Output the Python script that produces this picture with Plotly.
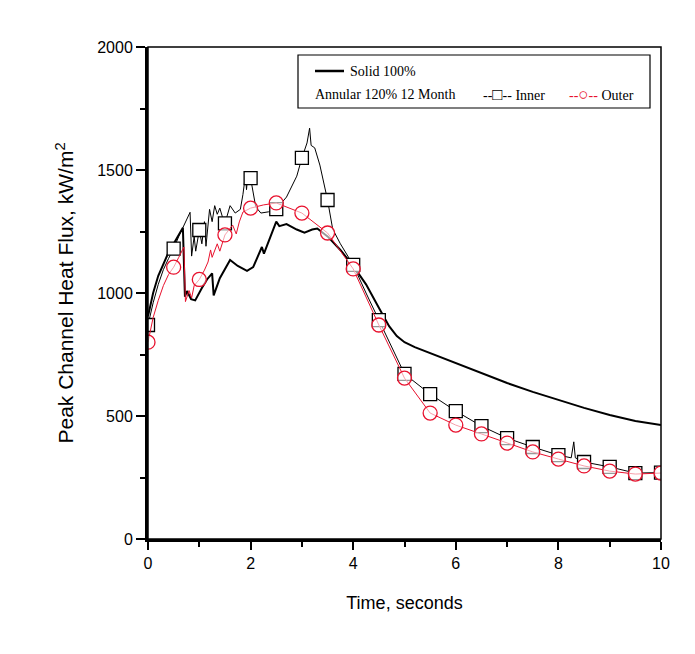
import plotly.graph_objects as go

# ---------------- data ----------------
solid_t = [0, 0.1, 0.2, 0.3, 0.4, 0.5, 0.6, 0.68, 0.72, 0.76, 0.84, 0.92, 1.05, 1.15, 1.25, 1.28,
           1.4, 1.6, 1.75, 1.93, 2.05, 2.22, 2.26, 2.35, 2.5, 2.56, 2.7, 2.9, 3.05, 3.2, 3.3, 3.5,
           3.75, 4.0, 4.25, 4.5, 4.7, 4.85, 5.0, 5.2, 5.5, 6.0, 6.5, 7.0, 7.5, 8.0, 8.5, 9.0, 9.5, 10.0]
solid_v = [905, 1000, 1070, 1120, 1165, 1200, 1235, 1265, 985, 1008, 975, 970, 1020, 1055, 1080, 990,
           1060, 1134, 1110, 1090, 1105, 1187, 1160, 1210, 1290, 1272, 1280, 1258, 1245, 1258, 1262, 1230,
           1175, 1110, 1035, 940, 865, 825, 800, 780, 756, 715, 675, 634, 598, 565, 533, 504, 480, 463]

inner_t = [0, 0.1, 0.2, 0.3, 0.4, 0.5, 0.6, 0.7, 0.82, 0.85, 0.9, 0.93, 1.0, 1.05, 1.1, 1.13, 1.2,
           1.25, 1.3, 1.35, 1.4, 1.45, 1.5, 1.6, 1.7, 1.8, 1.85, 1.9, 1.92, 1.95, 2.0, 2.1, 2.2, 2.35,
           2.5, 2.7, 2.9, 3.0, 3.1, 3.15, 3.18, 3.25, 3.35, 3.5, 3.6, 3.75, 4.0, 4.25, 4.5, 4.75, 5.0,
           5.5, 6.0, 6.5, 7.0, 7.5, 8.0, 8.25, 8.3, 8.33, 8.5, 9.0, 9.5, 10.0]
inner_v = [870, 960, 1035, 1095, 1140, 1180, 1230, 1275, 1328, 1150, 1230, 1170, 1256, 1200, 1290, 1190, 1340,
           1290, 1355, 1320, 1345, 1310, 1283, 1355, 1325, 1340, 1400, 1480, 1420, 1490, 1467, 1350, 1325, 1330,
           1341, 1390, 1475, 1549, 1610, 1670, 1600, 1590, 1520, 1378, 1260, 1200, 1114, 1000, 890, 780, 671,
           589, 520, 459, 410, 374, 341, 330, 395, 330, 313, 293, 268, 270]

outer_t = [0, 0.1, 0.2, 0.3, 0.4, 0.5, 0.6, 0.7, 0.73, 0.8, 0.85, 0.9, 1.0, 1.1, 1.17, 1.22, 1.25,
           1.35, 1.4, 1.5, 1.65, 1.72, 1.78, 1.85, 2.0, 2.25, 2.5, 3.0, 3.5, 4.0, 4.5, 5.0, 5.5, 6.0,
           6.5, 7.0, 7.5, 8.0, 8.5, 9.0, 9.5, 10.0]
outer_v = [800, 900, 970, 1030, 1075, 1105, 1145, 1187, 965, 1010, 980, 1030, 1055, 1093, 1126, 1175, 1145,
           1200, 1170, 1236, 1276, 1240, 1289, 1329, 1345, 1358, 1366, 1325, 1244, 1098, 870, 654, 512, 463,
           427, 390, 354, 325, 297, 276, 264, 268]

marker_t = [0, 0.5, 1.0, 1.5, 2.0, 2.5, 3.0, 3.5, 4.0, 4.5, 5.0, 5.5, 6.0, 6.5, 7.0, 7.5, 8.0, 8.5,
            9.0, 9.5, 10.0]
inner_marker_v = [870, 1180, 1256, 1283, 1467, 1341, 1549, 1378, 1114, 890, 671, 589, 520, 459, 410,
                  374, 341, 313, 293, 268, 270]
outer_marker_v = [800, 1105, 1055, 1236, 1345, 1366, 1325, 1244, 1098, 870, 654, 512, 463, 427, 390,
                  354, 325, 297, 276, 264, 268]

x_ticks = [0, 2, 4, 6, 8, 10]
y_ticks = [0, 500, 1000, 1500, 2000]

# ---------------- figure ----------------
fig = go.Figure()
fig.add_trace(go.Scatter(x=solid_t, y=solid_v, mode="lines",
                         line=dict(color="black", width=2), showlegend=False))
fig.add_trace(go.Scatter(x=inner_t, y=inner_v, mode="lines",
                         line=dict(color="black", width=1), showlegend=False))
fig.add_trace(go.Scatter(x=marker_t, y=inner_marker_v, mode="markers",
                         marker=dict(symbol="square", size=13, color="white",
                                     line=dict(color="black", width=1.3)), showlegend=False))
fig.add_trace(go.Scatter(x=outer_t, y=outer_v, mode="lines",
                         line=dict(color="#e8112d", width=1), showlegend=False))
fig.add_trace(go.Scatter(x=marker_t, y=outer_marker_v, mode="markers",
                         marker=dict(symbol="circle", size=14, color="rgba(255,255,255,0.6)",
                                     line=dict(color="#e8112d", width=1.3)), showlegend=False))

axis_font = dict(family="Liberation Sans, Arial", size=16, color="black")
fig.update_xaxes(range=[0, 10], tickvals=x_ticks, ticks="outside", ticklen=8, tickwidth=2,
                 tickcolor="black", showline=True, linewidth=3, linecolor="black",
                 showgrid=False, zeroline=False, tickfont=axis_font,
                 minor=dict(dtick=1, ticks="outside", ticklen=5, tickwidth=2, tickcolor="black"),
                 title=dict(text="Time, seconds", font=dict(family="Liberation Sans, Arial", size=18,
                                                             color="black"), standoff=26))
fig.update_yaxes(range=[0, 2000], tickvals=y_ticks, ticks="outside", ticklen=9, tickwidth=2,
                 tickcolor="black", showline=True, linewidth=3, linecolor="black",
                 showgrid=False, zeroline=False, tickfont=axis_font,
                 minor=dict(dtick=250, ticks="outside", ticklen=5, tickwidth=2, tickcolor="black"),
                 title=dict(text="Peak Channel Heat Flux, kW/m<sup>2</sup>",
                            font=dict(family="Liberation Sans, Arial", size=21, color="black"),
                            standoff=18))

# thin top/right frame
fig.add_shape(type="rect", xref="paper", yref="paper", x0=0, x1=1, y0=0, y1=1,
              line=dict(color="black", width=1.5), layer="above")

# legend box (drawn manually to mimic original layout)
def px_x(p):
    return (p - 148) / 513.0

def px_y(p):
    return (539 - p) / 492.0

fig.add_shape(type="rect", xref="paper", yref="paper", x0=px_x(298), x1=px_x(650),
              y0=px_y(108), y1=px_y(55), line=dict(color="black", width=1.2),
              fillcolor="white", layer="above")
fig.add_shape(type="line", xref="paper", yref="paper", x0=px_x(315), x1=px_x(344),
              y0=px_y(71), y1=px_y(71), line=dict(color="black", width=2.5), layer="above")
leg_font = dict(family="Liberation Serif, Times New Roman", size=14, color="black")
fig.add_annotation(xref="paper", yref="paper", x=px_x(348), y=px_y(71), text="Solid 100%",
                   showarrow=False, xanchor="left", yanchor="middle", font=leg_font)
fig.add_annotation(xref="paper", yref="paper", x=px_x(313), y=px_y(94), text="Annular 120% 12 Month",
                   showarrow=False, xanchor="left", yanchor="middle", font=leg_font)
fig.add_annotation(xref="paper", yref="paper", x=px_x(481), y=px_y(94),
                   text="--<span style='font-size:17px'>□</span>-- Inner", showarrow=False,
                   xanchor="left", yanchor="middle", font=leg_font)
fig.add_annotation(xref="paper", yref="paper", x=px_x(567), y=px_y(94),
                   text="<span style='color:#e8112d'>--<span style='font-size:17px'>○</span>--</span> Outer",
                   showarrow=False, xanchor="left", yanchor="middle", font=leg_font)

# page body adds an 8px offset, so margins are trimmed by 8px on left/top
fig.update_layout(width=695, height=654, plot_bgcolor="white", paper_bgcolor="white",
                  margin=dict(l=140, r=42, t=39, b=123), showlegend=False)

fig.write_html("out.html")
